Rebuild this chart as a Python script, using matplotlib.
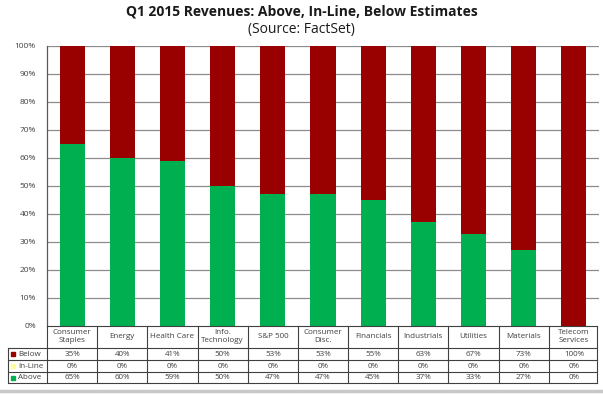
import matplotlib.pyplot as plt
from matplotlib.lines import Line2D
import numpy as np

# Data
categories = ['Consumer\nStaples', 'Energy', 'Health Care', 'Info.\nTechnology', 'S&P 500',
              'Consumer\nDisc.', 'Financials', 'Industrials', 'Utilities', 'Materials',
              'Telecom\nServices']
below = [35, 40, 41, 50, 53, 53, 55, 63, 67, 73, 100]
inline = [0, 0, 0, 0, 0, 0, 0, 0, 0, 0, 0]
above = [65, 60, 59, 50, 47, 47, 45, 37, 33, 27, 0]
yticks = [0, 10, 20, 30, 40, 50, 60, 70, 80, 90, 100]

GREEN = '#00B050'
RED = '#990000'
YELLOW = '#FFFF99'
TXT = '#404040'

plt.rcParams['font.family'] = ['Open Sans', 'DejaVu Sans']

fig = plt.figure(figsize=(6.03, 3.94), dpi=100)
W, H = 603, 394

def fy(px):
    return 1 - px / H

left = 47 / W
width = 552 / W
ax = fig.add_axes([left, fy(326), width, (326 - 46) / H])

x = np.arange(len(categories))
ax.bar(x, above, width=0.5, color=GREEN, zorder=3)
ax.bar(x, inline, width=0.5, bottom=above, color=YELLOW, zorder=3)
ax.bar(x, below, width=0.5, bottom=np.array(above) + np.array(inline), color=RED, zorder=3)

ax.set_xlim(-0.5, len(categories) - 0.5)
ax.set_ylim(0, 100)
ax.set_yticks(yticks)
ax.set_yticklabels([f'{v}%' for v in yticks], fontsize=6, color=TXT)
ax.set_xticks([])
ax.tick_params(axis='y', length=0, pad=8)
for v in yticks[1:]:
    ax.axhline(v, color='#8c8c8c', linewidth=0.9, zorder=1)
for s in ['top', 'right', 'bottom']:
    ax.spines[s].set_visible(False)
ax.spines['left'].set_color('#595959')
ax.spines['left'].set_linewidth(0.9)
ax.spines['left'].set_zorder(4)

# Table beneath the chart
tab = fig.add_axes([left, fy(383), width, (383 - 326) / H])
tab.set_xlim(-0.5, len(categories) - 0.5)
tab.set_ylim(57, 0)
tab.axis('off')

rows = [('Below', below, RED), ('In-Line', inline, YELLOW), ('Above', above, GREEN)]
row_edges = [0, 22, 34, 46, 57]
cw = 552 / len(categories)
lab_left = -0.5 - 39 / cw
right_edge = len(categories) - 0.5 - 2 / cw
lc = '#404040'
lw = 0.8

# horizontal lines
tab.plot([-0.5, right_edge], [row_edges[0]] * 2, color=lc, lw=lw, clip_on=False)
for e in row_edges[1:]:
    tab.plot([lab_left, right_edge], [e, e], color=lc, lw=lw, clip_on=False)
# vertical lines
for i in range(len(categories)):
    tab.plot([i - 0.5, i - 0.5], [0, 57], color=lc, lw=lw, clip_on=False)
tab.plot([right_edge, right_edge], [0, 57], color=lc, lw=lw, clip_on=False)
tab.plot([lab_left, lab_left], [22, 57], color=lc, lw=lw, clip_on=False)

for i, c in enumerate(categories):
    tab.text(i, 11, c, ha='center', va='center', fontsize=5.8, color=TXT, linespacing=1.2)

for r, (name, vals, col) in enumerate(rows):
    yc = (row_edges[r + 1] + row_edges[r + 2]) / 2
    tab.plot([lab_left + 0.1], [yc], marker='s', markersize=3.5, color=col,
             markeredgecolor=col, clip_on=False, linestyle='none')
    tab.text(lab_left + 0.2, yc, name, ha='left', va='center', fontsize=5.8, color=TXT)
    for i, v in enumerate(vals):
        tab.text(i, yc, f'{v}%', ha='center', va='center', fontsize=5.8, color=TXT)

fig.text(0.5, fy(12), 'Q1 2015 Revenues: Above, In-Line, Below Estimates',
         ha='center', va='center', fontsize=10, fontweight='bold', color='#1a1a1a')
fig.text(0.5, fy(30), '(Source: FactSet)', ha='center', va='center', fontsize=10, color='#1a1a1a')

fig.add_artist(Line2D([0, 1], [fy(391), fy(391)], color='#c8c8c8', lw=2.5))

fig.savefig('out.png', dpi=100)
